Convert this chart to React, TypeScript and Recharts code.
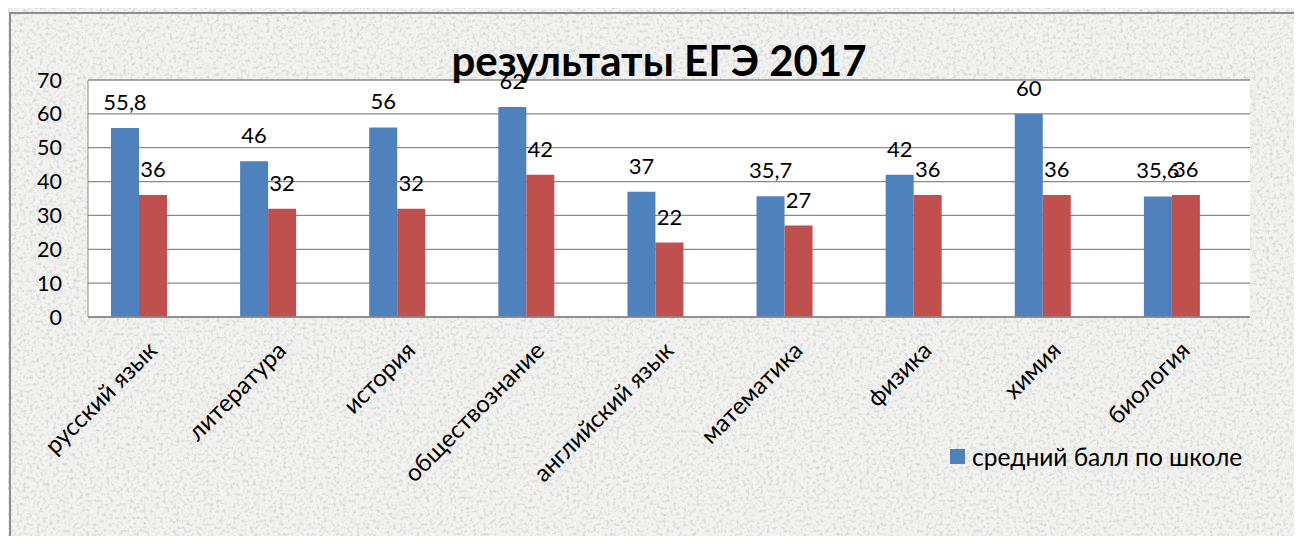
import React from 'react';
import { BarChart, Bar, XAxis, YAxis, CartesianGrid, LabelList, Legend } from 'recharts';

const subjects = [
  'русский язык',
  'литература',
  'история',
  'обществознание',
  'английский язык',
  'математика',
  'физика',
  'химия',
  'биология',
];
const schoolAvg = [55.8, 46, 56, 62, 37, 35.7, 42, 60, 35.6];
const otherAvg = [36, 32, 32, 42, 22, 27, 36, 36, 36];
const yTicks = [0, 10, 20, 30, 40, 50, 60, 70];

const data = subjects.map((name, i) => ({ name, school: schoolAvg[i], other: otherAvg[i] }));

const FONT = "Lato, 'Open Sans', sans-serif";
const BLUE = '#4F81BD';
const RED = '#C0504D';
const GRID = '#8a8a8a';

const fmt = (v: any) => String(v).replace('.', ',');

const SubjectTick = (props: any) => {
  const { x, y, payload } = props;
  return (
    <text
      transform={`translate(${x + 20},${y + 27}) rotate(-45)`}
      textAnchor="end"
      fontFamily={FONT}
      fontSize={24}
      fill="#000"
    >
      {payload.value}
    </text>
  );
};

const LegendBox = () => (
  <div style={{ display: 'flex', alignItems: 'center', fontFamily: FONT, fontSize: 24.5, color: '#000' }}>
    <span style={{ width: 15, height: 15, background: BLUE, marginRight: 7, display: 'inline-block' }} />
    средний балл по школе
  </div>
);

export default function App() {
  return (
    <div style={{ position: 'relative', width: 1302, height: 544, margin: -8, overflow: 'hidden', background: '#ececea' }}>
      <svg width={1302} height={544} style={{ position: 'absolute', left: 0, top: 0 }}>
        <filter id="granite" x="0" y="0" width="100%" height="100%">
          <feTurbulence type="fractalNoise" baseFrequency="0.3" numOctaves={4} seed={7} />
          <feColorMatrix values="0 0 0 0 0.55  0 0 0 0 0.55  0 0 0 0 0.55  0 0 0 2.2 -1.05" />
        </filter>
        <rect width={1302} height={544} fill="#f2f2f0" />
        <rect width={1302} height={544} filter="url(#granite)" opacity={0.8} />
      </svg>
      <div
        style={{
          position: 'absolute',
          left: 9,
          top: 12,
          width: 1302,
          height: 544,
          borderLeft: '2px solid #8c8c8c',
          borderTop: '2px solid #8c8c8c',
        }}
      />
      <div style={{ position: 'absolute', left: 0, top: 0 }}>
        <BarChart
          width={1302}
          height={544}
          data={data}
          margin={{ top: 80, right: 52, left: 28, bottom: 197 }}
          barSize={28}
          barGap={0}
        >
          <CartesianGrid vertical={false} stroke={GRID} strokeWidth={1.3} fill="#ffffff" fillOpacity={1} />
          <XAxis
            dataKey="name"
            height={30}
            interval={0}
            tickLine={false}
            axisLine={{ stroke: GRID, strokeWidth: 1.5 }}
            padding={{ left: -14, right: 14 }}
            tick={<SubjectTick />}
          />
          <YAxis
            width={60}
            domain={[0, 70]}
            ticks={yTicks}
            interval={0}
            tickLine={false}
            axisLine={{ stroke: GRID, strokeWidth: 1 }}
            tickMargin={20}
            tick={{ fontFamily: FONT, fontSize: 21.5, fill: '#000' }}
          />
          <Legend
            layout="horizontal"
            verticalAlign="middle"
            align="center"
            wrapperStyle={{ left: 950, top: 442, width: 340 }}
            content={<LegendBox />}
          />
          <Bar dataKey="school" name="средний балл по школе" fill={BLUE} isAnimationActive={false}>
            <LabelList
              dataKey="school"
              position="top"
              offset={18}
              formatter={fmt}
              style={{ fontFamily: FONT, fontSize: 22, fill: '#000' }}
            />
          </Bar>
          <Bar dataKey="other" fill={RED} legendType="none" isAnimationActive={false}>
            <LabelList
              dataKey="other"
              position="top"
              offset={18}
              formatter={fmt}
              style={{ fontFamily: FONT, fontSize: 22, fill: '#000' }}
            />
          </Bar>
        </BarChart>
      </div>
      <div
        style={{
          position: 'absolute',
          left: 0,
          width: 1318,
          top: 34,
          textAlign: 'center',
          fontFamily: FONT,
          fontWeight: 'bold',
          fontSize: 42,
          lineHeight: '52px',
          color: '#000',
          pointerEvents: 'none',
        }}
      >
        результаты ЕГЭ 2017
      </div>
    </div>
  );
}
